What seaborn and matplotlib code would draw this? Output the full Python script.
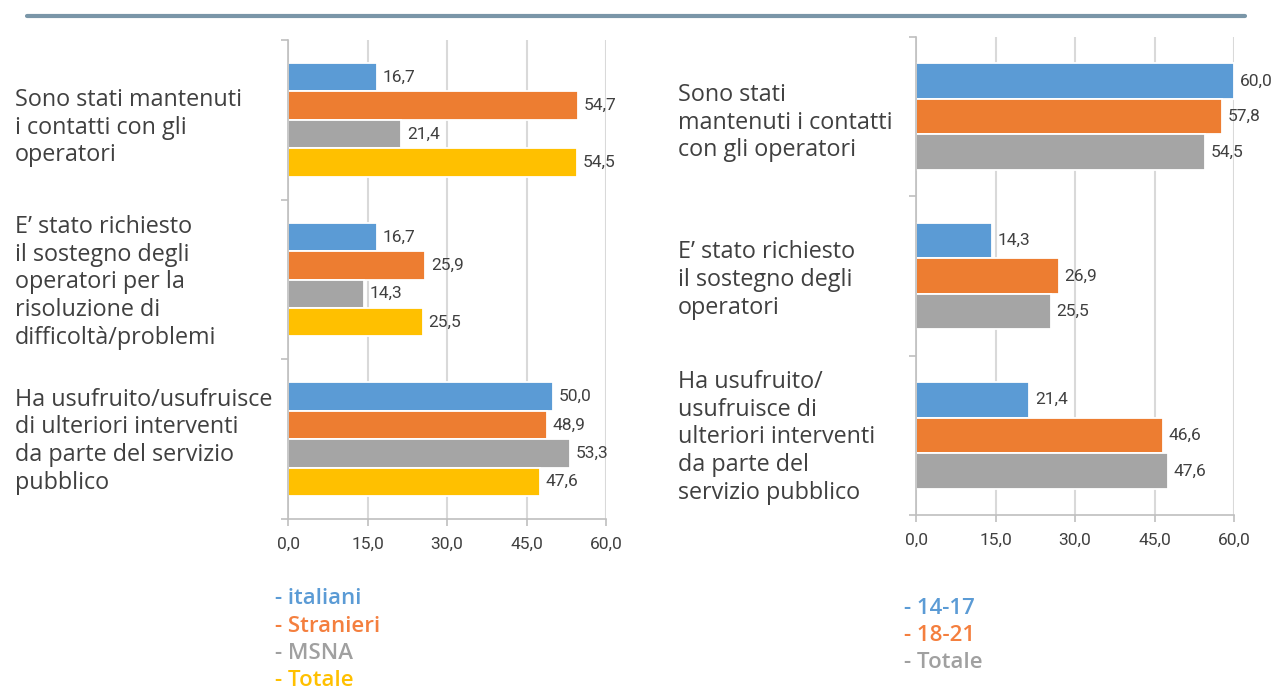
import matplotlib
matplotlib.use("Agg")
import matplotlib.pyplot as plt
import matplotlib.transforms as mtransforms
from matplotlib.lines import Line2D
import seaborn as sns
import pandas as pd

# ---------------- data ----------------
left_categories = [
    "Sono stati mantenuti\ni contatti con gli\noperatori",
    "E’ stato richiesto\nil sostegno degli\noperatori per la\nrisoluzione di\ndifficoltà/problemi",
    "Ha usufruito/usufruisce\ndi ulteriori interventi\nda parte del servizio\npubblico",
]
left_series = ["italiani", "Stranieri", "MSNA", "Totale"]
left_italiani = [16.7, 16.7, 50.0]
left_stranieri = [54.7, 25.9, 48.9]
left_msna = [21.4, 14.3, 53.3]
left_totale = [54.5, 25.5, 47.6]

right_categories = [
    "Sono stati\nmantenuti i contatti\ncon gli operatori",
    "E’ stato richiesto\nil sostegno degli\noperatori",
    "Ha usufruito/\nusufruisce di\nulteriori interventi\nda parte del\nservizio pubblico",
]
right_series = ["14-17", "18-21", "Totale"]
right_1417 = [60.0, 14.3, 21.4]
right_1821 = [57.8, 26.9, 46.6]
right_totale = [54.5, 25.5, 47.6]

x_ticks = [0, 15, 30, 45, 60]

# ---------------- style ----------------
BLUE, ORANGE, GRAY, YELLOW = "#5B9BD5", "#ED7D31", "#A5A5A5", "#FFC000"
sns.set_style("white")
plt.rcParams["font.family"] = ["Roboto", "DejaVu Sans"]

fig = plt.figure(figsize=(12.81, 6.90), dpi=100)

def fmt(v):
    return f"{v:.1f}".replace(".", ",")

def long_df(categories, series, values):
    rows = []
    for s, vals in zip(series, values):
        for c, v in zip(categories, vals):
            rows.append({"cat": c, "series": s, "val": v})
    return pd.DataFrame(rows)

def draw_panel(ax, categories, series, values, colors, width, label_x, label_shift_px):
    df = long_df(categories, series, values)
    sns.barplot(data=df, y="cat", x="val", hue="series", orient="h",
                order=categories, hue_order=series, palette=colors,
                width=width, edgecolor="white", linewidth=1.3,
                legend=False, ax=ax, saturation=1)
    for cont, vals in zip(ax.containers, values):
        ax.bar_label(cont, labels=[fmt(v) for v in vals], padding=4,
                     fontsize=12.5, color="#404040")
    ax.set_xlim(0, 60)
    ax.set_ylim(2.5, -0.5)
    ax.set_xticks(x_ticks)
    ax.set_xticklabels([fmt(t) for t in x_ticks], fontsize=12.5, color="#404040")
    ax.set_yticks([-0.5, 0.5, 1.5, 2.5])
    ax.set_yticklabels([])
    ax.set_xlabel("")
    ax.set_ylabel("")
    ax.grid(axis="x", color="#D9D9D9", linewidth=1.5)
    ax.set_axisbelow(True)
    for sp in ["top", "right"]:
        ax.spines[sp].set_visible(False)
    for sp in ["left", "bottom"]:
        ax.spines[sp].set_color("#BFBFBF")
        ax.spines[sp].set_linewidth(1.2)
    ax.tick_params(axis="both", which="major", length=5, width=1.2,
                   color="#BFBFBF", direction="out", left=True, bottom=True)
    ax.tick_params(axis="x", pad=8)
    trans = mtransforms.blended_transform_factory(fig.transFigure, ax.transData)
    for i, c in enumerate(categories):
        t = trans + mtransforms.ScaledTranslation(0, -label_shift_px[i] / 100,
                                                  fig.dpi_scale_trans)
        ax.text(label_x, i, c, transform=t, ha="left", va="center",
                fontsize=16.8, color="#404040", family=["Open Sans", "DejaVu Sans"],
                linespacing=1.2)

ax1 = fig.add_axes([288 / 1281, 1 - 519 / 690, 318 / 1281, 479 / 690])
draw_panel(ax1, left_categories, left_series,
           [left_italiani, left_stranieri, left_msna, left_totale],
           [BLUE, ORANGE, GRAY, YELLOW], 0.71, 15 / 1281, [8, 3, 2])

ax2 = fig.add_axes([916 / 1281, 1 - 515 / 690, 318 / 1281, 478 / 690])
draw_panel(ax2, right_categories, right_series,
           [right_1417, right_1821, right_totale],
           [BLUE, ORANGE, GRAY], 0.67, 678 / 1281, [6, 4, 2])

# legends as colored text
leg_left_colors = ["#5B9BD5", "#F47F3E", "#A0A0A0", "#FFC000"]
for i, (s, c) in enumerate(zip(left_series, leg_left_colors)):
    fig.text(275 / 1281, 1 - (599 + 27.3 * i) / 690, "- " + s, color=c,
             fontsize=16, fontweight="semibold", ha="left", va="center",
             family=["Open Sans", "DejaVu Sans"])
leg_right_colors = ["#5B9BD5", "#F47F3E", "#A0A0A0"]
for i, (s, c) in enumerate(zip(right_series, leg_right_colors)):
    fig.text(904 / 1281, 1 - (608 + 27.5 * i) / 690, "- " + s, color=c,
             fontsize=16, fontweight="semibold", ha="left", va="center",
             family=["Open Sans", "DejaVu Sans"])

# top rule
fig.add_artist(Line2D([27 / 1281, 1245 / 1281], [1 - 16 / 690, 1 - 16 / 690],
                      transform=fig.transFigure, color="#7A96A8", linewidth=3))

fig.savefig("out.png", dpi=100)
